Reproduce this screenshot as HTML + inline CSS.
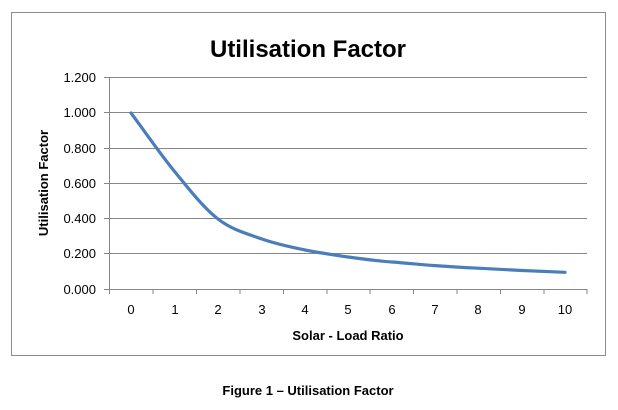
<!DOCTYPE html>
<html><head><style>body{margin:0;background:#fff;}svg{display:block;font-family:"Liberation Sans",sans-serif;}</style></head>
<body>
<svg width="618" height="410" viewBox="0 0 618 410">
<rect x="11.5" y="12.5" width="594" height="343" fill="#fff" stroke="#8c8c8c" stroke-width="1"/>
<text x="308" y="57" font-size="24" font-weight="bold" text-anchor="middle" fill="#000">Utilisation Factor</text>
<g stroke="#868686" stroke-width="1">
<line x1="104" y1="77.5" x2="587" y2="77.5"/>
<line x1="104" y1="112.5" x2="587" y2="112.5"/>
<line x1="104" y1="148.5" x2="587" y2="148.5"/>
<line x1="104" y1="183.5" x2="587" y2="183.5"/>
<line x1="104" y1="218.5" x2="587" y2="218.5"/>
<line x1="104" y1="253.5" x2="587" y2="253.5"/>
<line x1="104" y1="289.5" x2="587" y2="289.5"/>
<line x1="109.5" y1="77" x2="109.5" y2="294"/>
<line x1="153" y1="289" x2="153" y2="294"/><line x1="196.5" y1="289" x2="196.5" y2="294"/><line x1="240" y1="289" x2="240" y2="294"/><line x1="283.5" y1="289" x2="283.5" y2="294"/><line x1="327" y1="289" x2="327" y2="294"/><line x1="370" y1="289" x2="370" y2="294"/><line x1="413.5" y1="289" x2="413.5" y2="294"/><line x1="457" y1="289" x2="457" y2="294"/><line x1="500.5" y1="289" x2="500.5" y2="294"/><line x1="544" y1="289" x2="544" y2="294"/><line x1="587" y1="289" x2="587" y2="294"/>
</g>
<g font-size="13" text-anchor="end" fill="#000">
<text x="96" y="82">1.200</text><text x="96" y="117">1.000</text><text x="96" y="153">0.800</text><text x="96" y="188">0.600</text><text x="96" y="223">0.400</text><text x="96" y="258">0.200</text><text x="96" y="294">0.000</text>
</g>
<g font-size="13" text-anchor="middle" fill="#000">
<text x="131" y="314">0</text><text x="175" y="314">1</text><text x="218" y="314">2</text><text x="262" y="314">3</text><text x="305" y="314">4</text><text x="348" y="314">5</text><text x="392" y="314">6</text><text x="435" y="314">7</text><text x="478" y="314">8</text><text x="522" y="314">9</text><text x="565" y="314">10</text>
</g>
<text x="348" y="340" font-size="13" font-weight="bold" text-anchor="middle">Solar - Load Ratio</text>
<text transform="translate(48,183) rotate(-90)" font-size="13" font-weight="bold" text-anchor="middle">Utilisation Factor</text>
<path d="M131,113 C145.7,132.7 160.5,154.3 175,172 C189.5,189.7 203.5,207.8 218,219 C232.5,230.2 247.5,233.8 262,239 C276.5,244.2 290.7,247 305,250 C320,253 334,255 348,257 C363,259 377,261 392,262 C406,263 420,264.5 435,265.6 C449,266.6 463,267.5 478,268.2 C492,269 507,269.7 522,270.5 C536,271.2 550,271.8 565,272.3" fill="none" stroke="#4a7ebb" stroke-width="3.2" stroke-linecap="round"/>
<text x="308" y="395" font-size="13" font-weight="bold" text-anchor="middle">Figure 1 – Utilisation Factor</text>
</svg>
</body></html>
